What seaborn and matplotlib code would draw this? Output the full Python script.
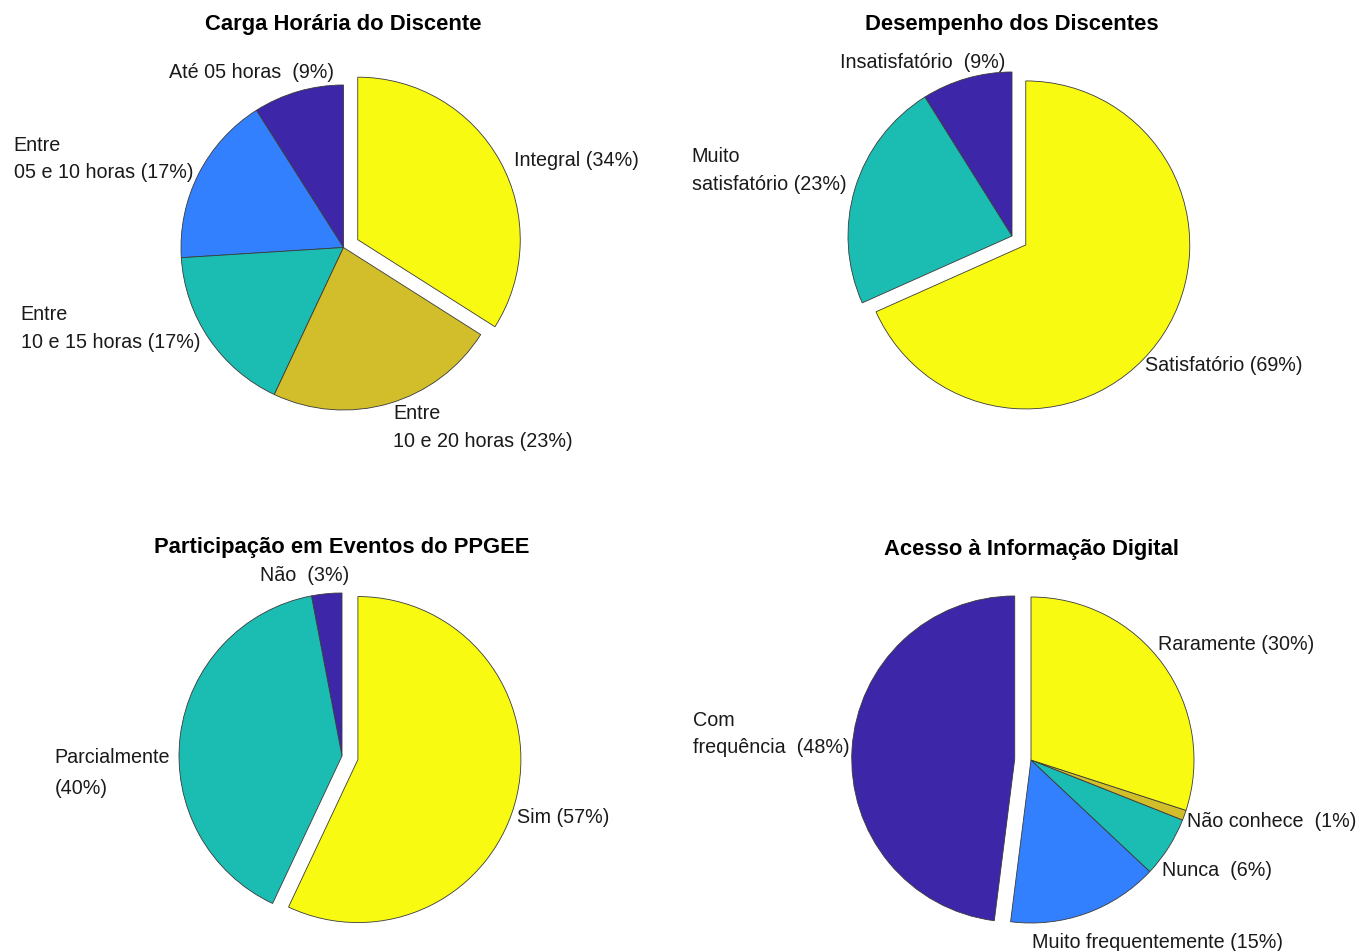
import matplotlib
matplotlib.use("Agg")
import matplotlib.pyplot as plt
import seaborn as sns

sns.set_theme(style="white")
plt.rcParams['font.family'] = ['Liberation Sans', 'DejaVu Sans']

# ---------------- data ----------------
carga_title = "Carga Horária do Discente"
carga_names = ["Até 05 horas  ", "Entre\n05 e 10 horas ", "Entre\n10 e 15 horas ",
               "Entre\n10 e 20 horas ", "Integral "]
carga_values = [9, 17, 17, 23, 34]

desemp_title = "Desempenho dos Discentes"
desemp_names = ["Insatisfatório  ", "Muito\nsatisfatório ", "Satisfatório "]
desemp_values = [9, 23, 69]

partic_title = "Participação em Eventos do PPGEE"
partic_names = ["Não  ", "Parcialmente\n", "Sim "]
partic_values = [3, 40, 57]

acesso_title = "Acesso à Informação Digital"
acesso_names = ["Com\nfrequência  ", "Muito frequentemente ", "Nunca  ",
                "Não conhece  ", "Raramente "]
acesso_values = [48, 15, 6, 1, 30]

# ---------------- styles / layout ----------------
DARK = "#3E26A8"
BLUE = "#3380FF"
TEAL = "#1BBDB3"
OLIVE = "#D1BE2A"
YELLOW = "#F8FA12"

W, H = 1360, 951
L = 1.6  # half-range of axes limits in radius units

charts = [
    dict(title=carga_title, names=carga_names, values=carga_values,
         colors=[DARK, BLUE, TEAL, OLIVE, YELLOW], explode=4,
         center=(343.5, 247.5), r=162.5, title_y=1.37,
         label_pos=[(-0.06, 1.08, "right", 1.57), (-0.926, 0.545, "right", 1.57),
                    (-0.883, -0.498, "right", 1.57), (0.305, -1.108, "left", 1.57),
                    (1.049, 0.538, "left", 1.57)]),
    dict(title=desemp_title, names=desemp_names, values=desemp_values,
         colors=[DARK, TEAL, YELLOW], explode=2,
         center=(1012, 236), r=164, title_y=1.29,
         label_pos=[(-0.043, 1.06, "right", 1.57), (-1.01, 0.40, "right", 1.57),
                    (0.81, -0.787, "left", 1.57)]),
    dict(title=partic_title, names=partic_names, values=partic_values,
         colors=[DARK, TEAL, YELLOW], explode=2,
         center=(342, 756), r=163, title_y=1.28,
         label_pos=[(0.043, 1.11, "right", 1.57), (-1.055, -0.104, "right", 1.75),
                    (1.074, -0.38, "left", 1.57)]),
    dict(title=acesso_title, names=acesso_names, values=acesso_values,
         colors=[DARK, BLUE, TEAL, OLIVE, YELLOW], explode=0,
         center=(1031, 760), r=163, title_y=1.29,
         label_pos=[(-1.11, 0.16, "right", 1.57), (0.006, -1.117, "left", 1.57),
                    (0.804, -0.68, "left", 1.57), (0.957, -0.38, "left", 1.57),
                    (0.779, 0.706, "left", 1.57)]),
]

fig = plt.figure(figsize=(W / 100, H / 100), dpi=100)
fig.patch.set_facecolor("white")

for ch in charts:
    cx, cy = ch["center"]
    r = ch["r"]
    half = L * r
    ax = fig.add_axes([(cx - half) / W, (H - cy - half) / H, 2 * half / W, 2 * half / H])
    explode = [0.1 if i == ch["explode"] else 0 for i in range(len(ch["values"]))]
    ax.pie(ch["values"], colors=ch["colors"], explode=explode, startangle=90,
           counterclock=True, radius=1,
           wedgeprops=dict(edgecolor="#3a3a3a", linewidth=0.6))
    ax.set_xlim(-L, L)
    ax.set_ylim(-L, L)
    ax.set_aspect("equal")
    ax.axis("off")
    for name, v, (x, y, ha, ls) in zip(ch["names"], ch["values"], ch["label_pos"]):
        ax.text(x, y, f"{name}({v}%)", ha=ha, va="center", multialignment="left",
                fontsize=14.2, color="#1a1a1a", linespacing=ls)
    ax.text(0, ch["title_y"], ch["title"], ha="center", va="center",
            fontsize=15.8, fontweight="bold", color="black")

fig.savefig("out.png", dpi=100, facecolor="white")
